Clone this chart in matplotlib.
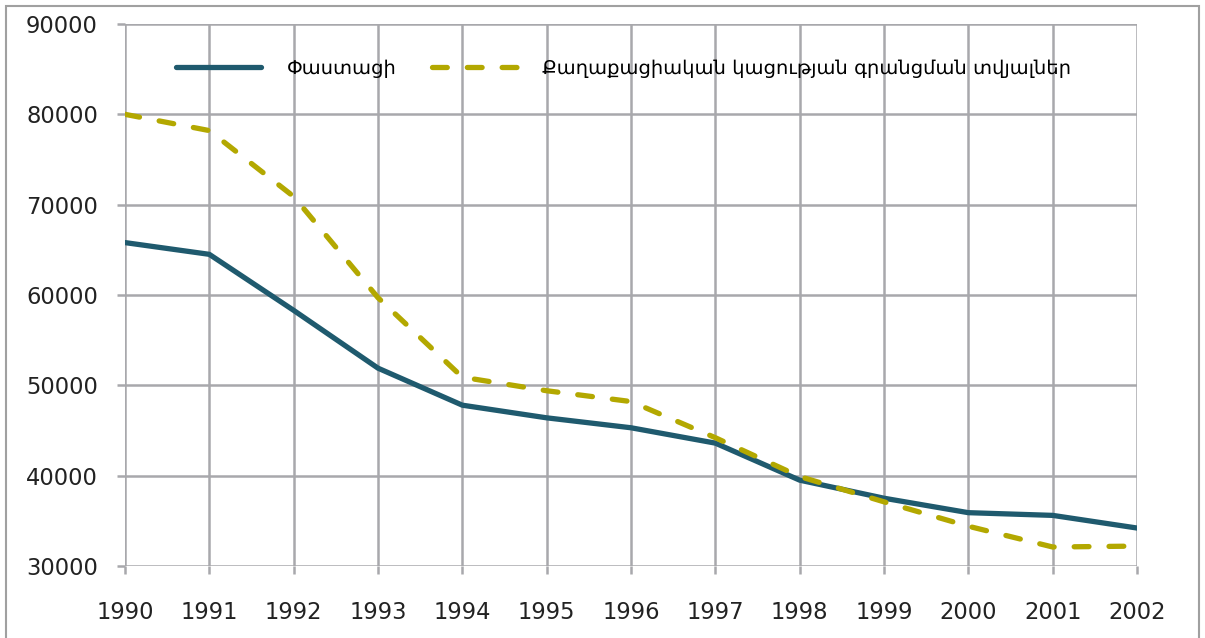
import matplotlib
matplotlib.use("Agg")
import matplotlib.pyplot as plt
from matplotlib.patches import Rectangle

years = list(range(1990, 2003))
actual = [65800, 64500, 58300, 51900, 47800, 46400, 45300, 43600, 39500, 37500, 35900, 35600, 34200]
census = [80000, 78200, 70900, 59700, 50900, 49400, 48200, 44200, 39900, 37100, 34400, 32100, 32200]
label_actual = "Փաստացի"
label_census = "Քաղաքացիական կացության գրանցման տվյալներ"

blue = "#1F5A6E"
olive = "#B3A800"
grid_c = "#A8A8AC"

plt.rcParams['font.family'] = ['DejaVu Sans']

fig = plt.figure(figsize=(12.05, 6.38), dpi=100)
ax = fig.add_axes([0.1037, 0.1129, 0.8399, 0.8495])

ax.plot(years, actual, color=blue, lw=3.8, solid_capstyle='round', label=label_actual, zorder=3)
ax.plot(years, census, color=olive, lw=3.8, dashes=(2.8, 3.8), dash_capstyle='round',
        label=label_census, zorder=3)

ax.set_xlim(1990, 2002)
ax.set_ylim(30000, 90000)
ax.set_xticks(years)
ax.set_yticks(range(30000, 90001, 10000))
ax.grid(True, color=grid_c, lw=1.8)
ax.set_axisbelow(True)
for s in ax.spines.values():
    s.set_visible(False)
ax.tick_params(axis='both', colors=grid_c, width=1.8, length=6, labelsize=16.3,
               labelcolor='#222222', direction='out')
ax.tick_params(axis='x', pad=19)
ax.tick_params(axis='y', pad=13.5)

leg = ax.legend(loc='upper left', bbox_to_anchor=(0.033, 0.968), ncol=2, frameon=False,
                fontsize=14, handlelength=4.4, columnspacing=1.8, handletextpad=1.3)

fig.patches.append(Rectangle((6 / 1205, -0.05), 1193 / 1205, 1.05 - 6 / 638,
                             transform=fig.transFigure, fill=False,
                             edgecolor='#A0A0A0', lw=1.5))

fig.savefig("out.png", dpi=100)
